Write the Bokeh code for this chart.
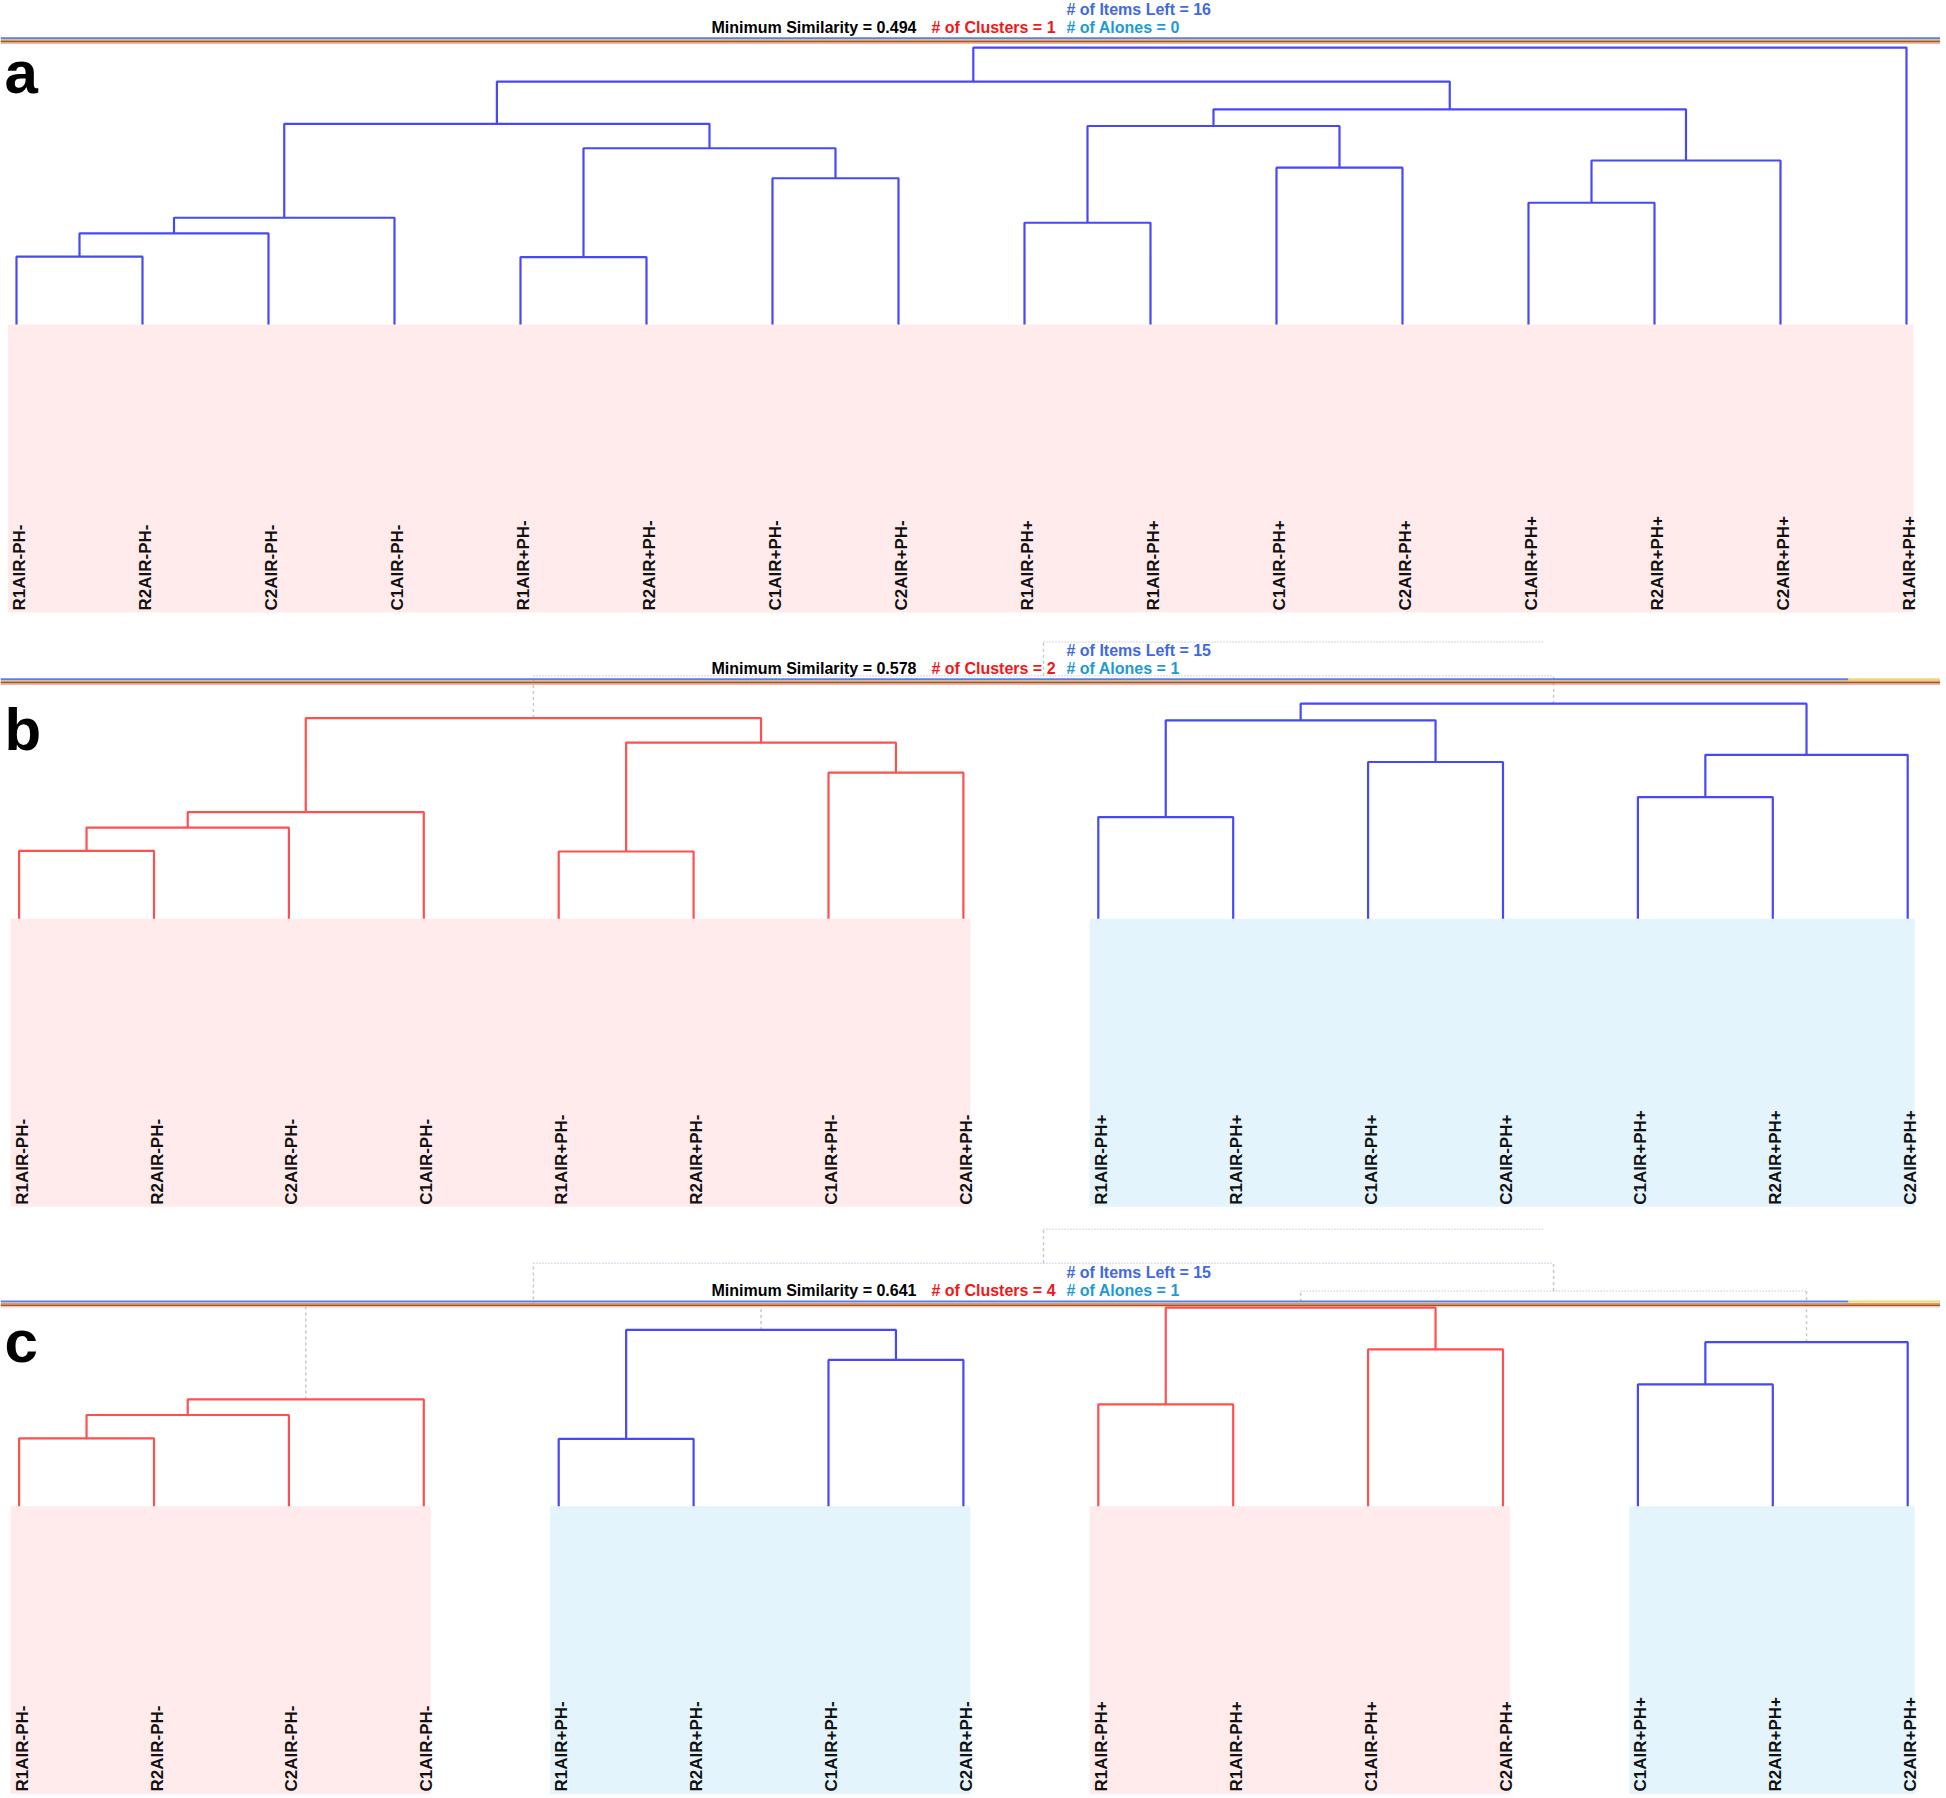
import math
from bokeh.plotting import figure
from bokeh.layouts import column
from bokeh.models import Range1d
from bokeh.core.properties import value
from bokeh.embed import file_html
from bokeh.resources import INLINE

# ---------------- data ----------------
LEAF_NAMES = ["R1AIR-PH-", "R2AIR-PH-", "C2AIR-PH-", "C1AIR-PH-",
              "R1AIR+PH-", "R2AIR+PH-", "C1AIR+PH-", "C2AIR+PH-",
              "R1AIR-PH+", "R1AIR-PH+", "C1AIR-PH+", "C2AIR-PH+",
              "C1AIR+PH+", "R2AIR+PH+", "C2AIR+PH+", "R1AIR+PH+"]

# merge k creates node 16+k from (left, right) at the given similarity
MERGE_LEFT = [0, 16, 17, 4, 6, 19, 18, 8, 10, 23, 12, 26, 25, 22, 29]
MERGE_RIGHT = [1, 2, 3, 5, 7, 20, 21, 9, 11, 24, 13, 14, 27, 28, 15]
MERGE_SIM = [0.878, 0.836, 0.808, 0.879, 0.737, 0.683, 0.639, 0.817,
             0.718, 0.643, 0.781, 0.705, 0.613, 0.563, 0.502]

PANEL_TAGS = ["a", "b", "c"]
MIN_SIMILARITY = [0.494, 0.578, 0.641]
ITEMS_LEFT = [16, 15, 15]
N_CLUSTERS = [1, 2, 4]
N_ALONES = [0, 1, 1]
ALONE_SLOT = 11.3  # where the lone item's link ends in panels b and c

CLUSTER_LINE_COLORS = [["#4848F6"],
                       ["#FF5050", "#4848F6"],
                       ["#FF5050", "#4848F6", "#FF5050", "#4848F6"]]
CLUSTER_BAND_COLORS = [["#FFEBEB"],
                       ["#FFEBEB", "#E3F4FC"],
                       ["#FFEBEB", "#E3F4FC", "#FFEBEB", "#E3F4FC"]]

# ---------------- layout ----------------
W = 1940
K = 556.0                      # pixels per unit of similarity
X0 = [16.0, 18.6, 18.6]        # page x of first leaf
DX = [126.0, 134.9, 134.9]     # leaf spacing
LEAF_Y = [324.0, 918.3, 1505.7]
FIG_TOP = [0, 630, 1220]
FIG_H = [630, 590, 574]
LETTER_BASE = [72, 729, 1341]
BAND_DEPTH = 288
FONT = value("Liberation Sans")

N_LEAVES = len(LEAF_NAMES)

members = {i: [i] for i in range(N_LEAVES)}
node_sim = {i: 1.0 for i in range(N_LEAVES)}
for k, (a, b, s) in enumerate(zip(MERGE_LEFT, MERGE_RIGHT, MERGE_SIM)):
    members[N_LEAVES + k] = members[a] + members[b]
    node_sim[N_LEAVES + k] = s


def clusters_for(th):
    grp = {i: [i] for i in range(N_LEAVES)}
    owner = list(range(N_LEAVES))
    for a, b, s in zip(MERGE_LEFT, MERGE_RIGHT, MERGE_SIM):
        if s >= th:
            la = owner[members[a][0]]
            lb = owner[members[b][0]]
            if la != lb:
                grp[la] += grp[lb]
                for m in grp[lb]:
                    owner[m] = la
                del grp[lb]
    groups = sorted(grp.values(), key=min)
    clusters = [sorted(g) for g in groups if len(g) > 1]
    alones = [g[0] for g in groups if len(g) == 1]
    return clusters, alones


def make_panel(i):
    x0, dx, ly, top, h = X0[i], DX[i], LEAF_Y[i], FIG_TOP[i], FIG_H[i]
    th = MIN_SIMILARITY[i]

    def px_x(px):
        return (px - x0) / dx

    def py_s(py):
        return 1.0 - (ly - py) / K

    def off_x(d):
        return d / dx

    def off_s(d):
        return d / K

    p = figure(width=W, height=h, output_backend="svg", toolbar_location=None,
               x_range=Range1d(px_x(0), px_x(W)),
               y_range=Range1d(py_s(top + h), py_s(top)),
               x_axis_location=None, y_axis_location=None, min_border=0,
               outline_line_color=None, background_fill_color="white",
               border_fill_color="white")
    p.grid.visible = False

    clusters, alones = clusters_for(th)
    visible = [l for c in clusters for l in c]
    slot = {}
    for n, l in enumerate(visible):
        slot[l] = float(n)
    for l in alones:
        slot[l] = ALONE_SLOT
    xpos = dict(slot)
    for k in range(len(MERGE_SIM)):
        xpos[N_LEAVES + k] = (xpos[MERGE_LEFT[k]] + xpos[MERGE_RIGHT[k]]) / 2.0
    cl_of = {}
    for ci, c in enumerate(clusters):
        for l in c:
            cl_of[l] = ci

    # label bands
    band_bottom = min(1.0 + off_s(BAND_DEPTH), py_s(top + h))
    p.quad(left=[slot[c[0]] - off_x(8.6) for c in clusters],
           right=[slot[c[-1]] + off_x(7.0) for c in clusters],
           top=[1.0] * len(clusters), bottom=[band_bottom] * len(clusters),
           fill_color=CLUSTER_BAND_COLORS[i][:len(clusters)], line_color=None)

    # leaf labels
    lab_y = min(1.0 + off_s(BAND_DEPTH - 2), py_s(top + h - 3))
    p.text(x=[slot[l] + off_x(3) for l in visible], y=[lab_y] * len(visible),
           text=[LEAF_NAMES[l] for l in visible], angle=math.pi / 2,
           text_align="left", text_baseline="middle", text_font=FONT,
           text_font_style="bold", text_font_size="17px", text_color="#111111")

    # cut (dotted) part of the tree
    hx, hy, vx, vy = [], [], [], []
    for k, (a, b, s) in enumerate(zip(MERGE_LEFT, MERGE_RIGHT, MERGE_SIM)):
        if s >= th:
            continue
        hx.append([xpos[a], xpos[b]])
        hy.append([s, s])
        for c in (a, b):
            if c in alones:
                continue
            vx.append([xpos[c], xpos[c]])
            vy.append([node_sim[c], s])
    if hx:
        p.multi_line(hx, hy, line_color="#C4C4E0", line_width=1.5, line_dash="1 2")
        p.multi_line(vx, vy, line_color="#C8C8C8", line_width=1.5, line_dash="3 3")

    # threshold stripes
    xa, xb = px_x(0), px_x(W)
    split = px_x(1848) if N_ALONES[i] > 0 else xb
    p.segment(x0=[xa], y0=[th - off_s(5)], x1=[split], y1=[th - off_s(5)],
              line_color="#5B7EE6", line_width=2)
    if split < xb:
        p.segment(x0=[split], y0=[th - off_s(5)], x1=[xb], y1=[th - off_s(5)],
                  line_color="#EBD877", line_width=2)
    p.segment(x0=[xa], y0=[th - off_s(2.8)], x1=[xb], y1=[th - off_s(2.8)],
              line_color="#D6A24E", line_width=1.5)
    p.segment(x0=[xa], y0=[th - off_s(1.3)], x1=[xb], y1=[th - off_s(1.3)],
              line_color="#A4532C", line_width=1.5)
    p.segment(x0=[xa], y0=[th + off_s(0.2)], x1=[xb], y1=[th + off_s(0.2)],
              line_color="#F0A8A8", line_width=1)

    # solid dendrogram
    xs, ys, cols = [], [], []
    for k, (a, b, s) in enumerate(zip(MERGE_LEFT, MERGE_RIGHT, MERGE_SIM)):
        if s < th:
            continue
        xs.append([xpos[a], xpos[a], xpos[b], xpos[b]])
        ys.append([node_sim[a], s, s, node_sim[b]])
        cols.append(CLUSTER_LINE_COLORS[i][cl_of[members[N_LEAVES + k][0]]])
    p.multi_line(xs, ys, line_color=cols, line_width=2.2)

    # header texts
    y_items = max(th - off_s(34), py_s(top + 9))
    y_min = th - off_s(16)
    p.text(x=[px_x(1066)], y=[y_items], text=["# of Items Left = %d" % ITEMS_LEFT[i]],
           text_font=FONT, text_font_style="bold", text_font_size="16px",
           text_color="#4169E1", text_baseline="middle", text_align="left")
    p.text(x=[px_x(711), px_x(931), px_x(1066)], y=[y_min] * 3,
           text=["Minimum Similarity = %.3f" % th,
                 "# of Clusters = %d" % N_CLUSTERS[i],
                 "# of Alones = %d" % N_ALONES[i]],
           text_color=["#000000", "#F01818", "#1E9AD6"],
           text_font=FONT, text_font_style="bold", text_font_size="16px",
           text_baseline="middle", text_align="left")

    # panel letter
    p.text(x=[px_x(4)], y=[py_s(LETTER_BASE[i])], text=[PANEL_TAGS[i]],
           text_font=FONT, text_font_style="bold",
           text_font_size="60px", text_color="#000000",
           text_baseline="alphabetic", text_align="left")
    return p


panels = [make_panel(i) for i in range(3)]
layout = column(*panels, spacing=0)
open("out.html", "w").write(file_html(layout, INLINE))
